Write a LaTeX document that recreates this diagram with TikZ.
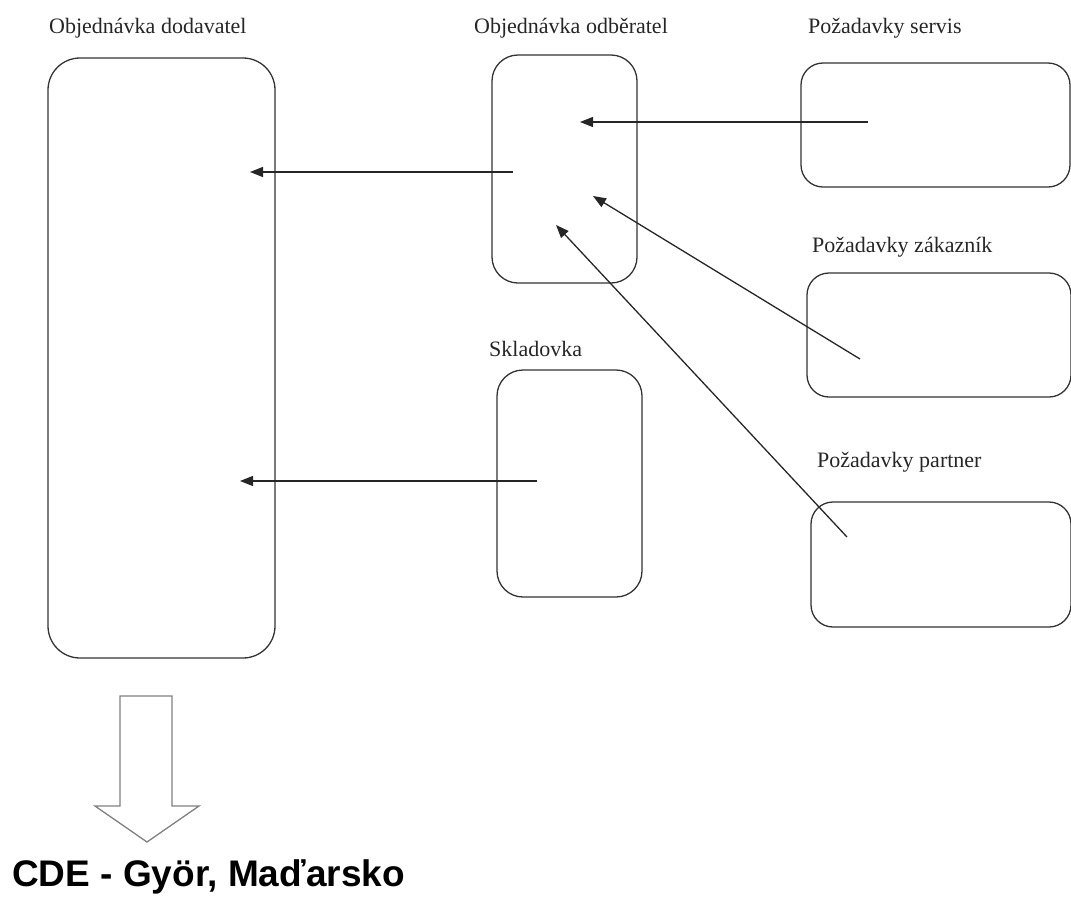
\documentclass[tikz,border=0pt]{standalone}
\usepackage{fontspec}
\setmainfont{Liberation Serif}
\newfontfamily\headfont{Liberation Sans}
\usetikzlibrary{arrows.meta}
\usetikzlibrary{positioning}

\begin{document}
\begin{tikzpicture}[x=1pt,y=-1pt,thin,
	  box/.style={rectangle,draw=black!80,line width=1.3pt,rounded corners=22pt,anchor=north west,inner sep=0pt,outer sep=0pt},
	  lbl/.style={anchor=base west,inner sep=0pt,font=\fontsize{22}{26}\selectfont,text=black!85},
	  arr/.style={-{Triangle[length=13pt,width=10pt]},line width=1.3pt,color=black!85}]
	  \useasboundingbox (0,0) rectangle (1071,903);
	  \node[box,minimum width=227pt,minimum height=600pt,rounded corners=32pt] (d) at (48,58) {};
	  \node[box,minimum width=145pt,minimum height=228pt,rounded corners=26pt] (o) at (492,55) {};
	  \node[box,minimum width=269pt,minimum height=124pt] (s) at (801,63) {};
	  \node[box,minimum width=264pt,minimum height=124pt] (z) at (807,273) {};
	  \node[box,minimum width=145pt,minimum height=227pt,rounded corners=26pt] (k) at (497,370) {};
	  \node[box,minimum width=260pt,minimum height=125pt] (p) at (811,502) {};
%
	  \node[lbl] (dl) at (49,33) {Objednávka dodavatel};
	  \node[lbl] (ol) at (474,33) {Objednávka odběratel};
	  \node[lbl] (sl) at (808,33) {Požadavky servis};
	  \node[lbl] (zl) at (812,252) {Požadavky zákazník};
	  \node[lbl] (kl) at (489,356) {Skladovka};
	  \node[lbl] (pl) at (817,467) {Požadavky partner};
%
	  \coordinate (s1) at (868,122);
	  \coordinate (o1) at (580,122);
	  \coordinate (o2) at (513,172);
	  \coordinate (d1) at (250,172);
	  \coordinate (z1) at (860,359);
	  \coordinate (o3) at (593,196);
	  \coordinate (p1) at (847,537);
	  \coordinate (o4) at (556,225);
	  \coordinate (k1) at (537,481);
	  \coordinate (d2) at (240,481);
	  \path[arr]
	    (s1) edge (o1)
	    (o2) edge (d1)
	    (z1) edge (o3)
	    (p1) edge (o4)
	    (k1) edge (d2);
%
	  \draw[draw=black!50,line width=1.3pt] (120,696) -- (172,696) -- (172,806) -- (199,806) -- (147,842) -- (95,806) -- (120,806) -- cycle;
	  \node[anchor=base west,inner sep=0pt,font=\headfont\bfseries\fontsize{37}{44}\selectfont] (cde) at (12,886) {CDE - Györ, Maďarsko};
\end{tikzpicture}
\end{document}
